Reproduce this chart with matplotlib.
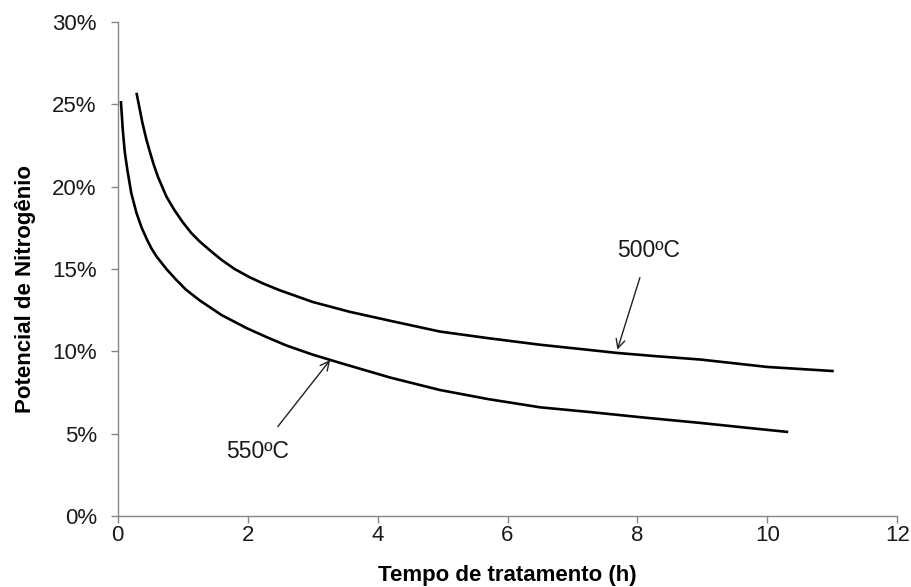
import matplotlib
matplotlib.use("Agg")
import matplotlib.pyplot as plt
from matplotlib.ticker import FuncFormatter

plt.rcParams['font.family'] = ['Liberation Sans', 'DejaVu Sans']

# 500 ºC curve (time in h, nitrogen potential in %)
t500 = [0.29, 0.34, 0.38, 0.44, 0.49, 0.55, 0.62, 0.75, 0.87, 1.0, 1.13, 1.26, 1.43, 1.6, 1.8, 2.03,
        2.25, 2.5, 2.75, 3.0, 3.57, 4.2, 4.96, 5.7, 6.5, 7.1, 7.69, 8.3, 8.97, 10.0, 11.02]
p500 = [25.7, 24.7, 23.9, 22.9, 22.2, 21.4, 20.6, 19.4, 18.6, 17.85, 17.2, 16.68, 16.1, 15.55, 15.0, 14.5,
        14.1, 13.7, 13.35, 13.0, 12.4, 11.85, 11.2, 10.8, 10.4, 10.15, 9.9, 9.7, 9.5, 9.05, 8.8]

# 550 ºC curve
t550 = [0.05, 0.08, 0.11, 0.15, 0.21, 0.29, 0.37, 0.45, 0.52, 0.6, 0.75, 0.9, 1.05, 1.26, 1.6, 1.99, 2.3,
        2.6, 3.0, 3.42, 4.2, 4.96, 5.7, 6.5, 7.3, 8.04, 8.97, 9.7, 10.32]
p550 = [25.2, 23.4, 22.1, 21.0, 19.6, 18.4, 17.5, 16.8, 16.25, 15.75, 15.0, 14.35, 13.75, 13.1, 12.2, 11.4, 10.85,
        10.35, 9.8, 9.3, 8.4, 7.65, 7.1, 6.6, 6.3, 6.0, 5.65, 5.35, 5.1]

xticks = [0, 2, 4, 6, 8, 10, 12]
yticks = [0, 5, 10, 15, 20, 25, 30]

fig = plt.figure(figsize=(9.12, 5.87), dpi=100)
ax = fig.add_axes([0.129, 0.121, 0.855, 0.8415])

ax.plot(t500, p500, color='black', lw=1.9, solid_capstyle='butt', solid_joinstyle='round')
ax.plot(t550, p550, color='black', lw=1.9, solid_capstyle='butt', solid_joinstyle='round')

ax.set_xlim(0, 12)
ax.set_ylim(0, 30)
ax.set_xticks(xticks)
ax.set_yticks(yticks)
ax.yaxis.set_major_formatter(FuncFormatter(lambda v, p: f"{int(v)}%"))

for s in ['top', 'right']:
    ax.spines[s].set_visible(False)
for s in ['left', 'bottom']:
    ax.spines[s].set_color('#868686')
    ax.spines[s].set_linewidth(1.0)
ax.tick_params(axis='both', colors='#868686', length=5, width=1.0, labelsize=16, labelcolor='#1a1a1a', direction='out')
ax.tick_params(axis='y', pad=10)
ax.tick_params(axis='x', pad=1.5)

ax.set_xlabel('Tempo de tratamento (h)', fontsize=16, fontweight='bold', labelpad=14)
ax.set_ylabel('Potencial de Nitrogênio', fontsize=16, fontweight='bold')
ax.yaxis.set_label_coords(-0.105, 0.46)

ax.annotate('500ºC', xy=(7.69, 10.1), xytext=(8.17, 16.15), fontsize=16.5,
            ha='center', va='center', color='#1a1a1a',
            arrowprops=dict(arrowstyle='->', color='#222222', lw=1.0, shrinkA=10, shrinkB=0, mutation_scale=16))
ax.annotate('550ºC', xy=(3.27, 9.47), xytext=(2.16, 3.9), fontsize=16.5,
            ha='center', va='center', color='#1a1a1a',
            arrowprops=dict(arrowstyle='->', color='#222222', lw=1.0, shrinkA=10, shrinkB=0, mutation_scale=16))

fig.savefig('out.png', dpi=100)
